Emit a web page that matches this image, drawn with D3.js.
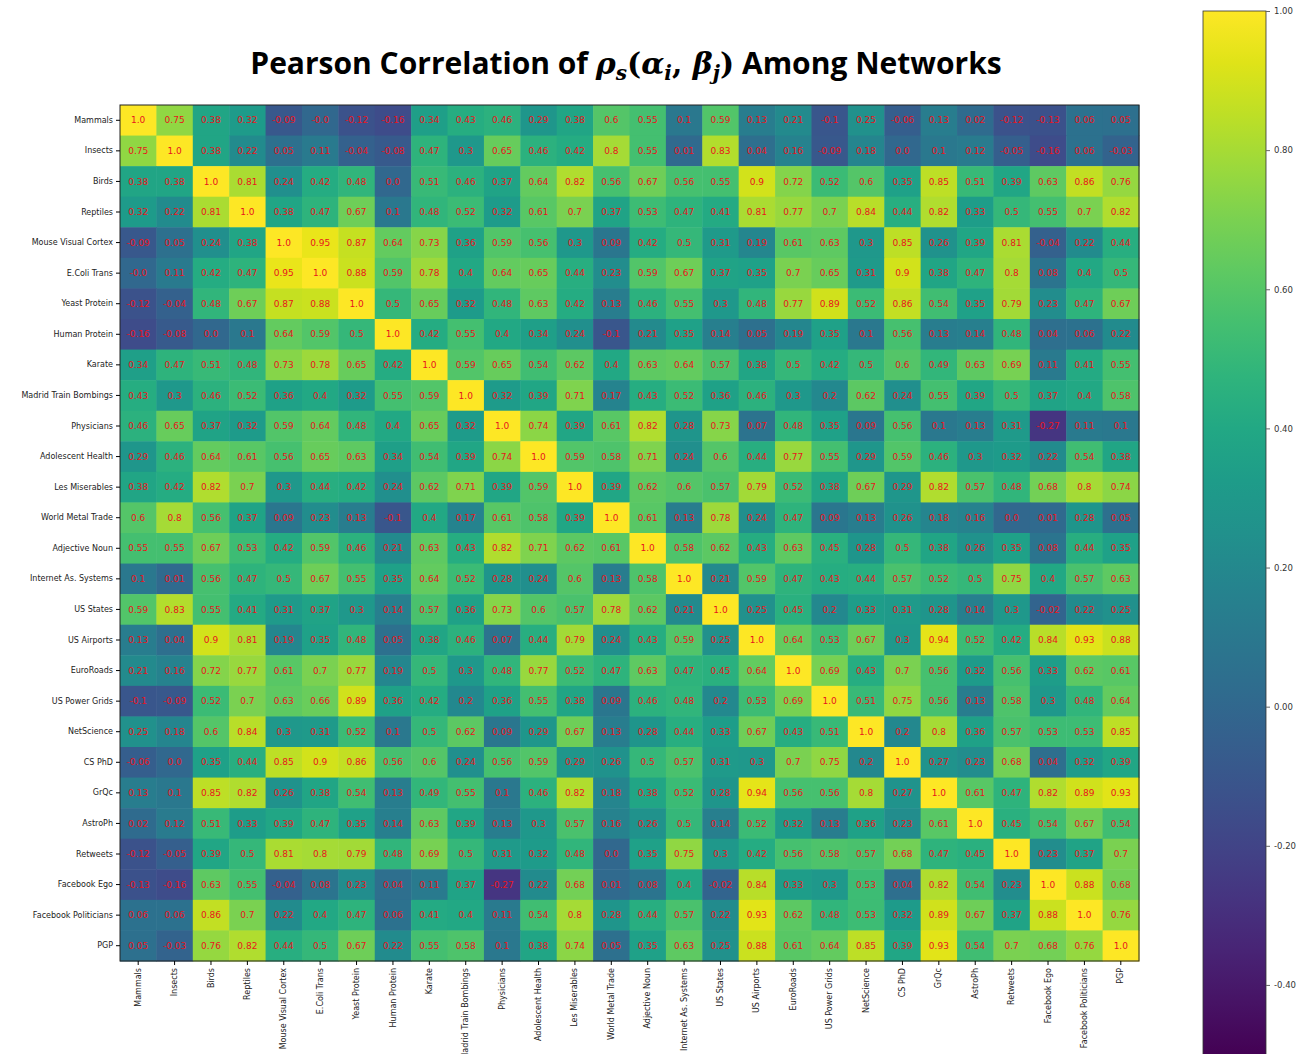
<!DOCTYPE html>
<html>
<head>
<meta charset="utf-8">
<script src="https://cdn.jsdelivr.net/npm/d3@7"></script>
<style>
body { margin: 0; background: #fff; }
</style>
</head>
<body>
<script>
// network names (rows and columns)
var networks = ["Mammals", "Insects", "Birds", "Reptiles", "Mouse Visual Cortex", "E.Coli Trans",
  "Yeast Protein", "Human Protein", "Karate", "Madrid Train Bombings", "Physicians",
  "Adolescent Health", "Les Miserables", "World Metal Trade", "Adjective Noun",
  "Internet As. Systems", "US States", "US Airports", "EuroRoads", "US Power Grids",
  "NetScience", "CS PhD", "GrQc", "AstroPh", "Retweets", "Facebook Ego",
  "Facebook Politicians", "PGP"];

// correlation values, one row per network
var rows = [
  [1.0,0.75,0.38,0.32,-0.09,-0.0,-0.12,-0.16,0.34,0.43,0.46,0.29,0.38,0.6,0.55,0.1,0.59,0.13,0.21,-0.1,0.25,-0.06,0.13,0.02,-0.12,-0.13,0.06,0.05],
  [0.75,1.0,0.38,0.22,0.05,0.11,-0.04,-0.08,0.47,0.3,0.65,0.46,0.42,0.8,0.55,0.01,0.83,0.04,0.16,-0.09,0.18,0.0,0.1,0.12,-0.05,-0.16,0.06,-0.03],
  [0.38,0.38,1.0,0.81,0.24,0.42,0.48,0.0,0.51,0.46,0.37,0.64,0.82,0.56,0.67,0.56,0.55,0.9,0.72,0.52,0.6,0.35,0.85,0.51,0.39,0.63,0.86,0.76],
  [0.32,0.22,0.81,1.0,0.38,0.47,0.67,0.1,0.48,0.52,0.32,0.61,0.7,0.37,0.53,0.47,0.41,0.81,0.77,0.7,0.84,0.44,0.82,0.33,0.5,0.55,0.7,0.82],
  [-0.09,0.05,0.24,0.38,1.0,0.95,0.87,0.64,0.73,0.36,0.59,0.56,0.3,0.09,0.42,0.5,0.31,0.19,0.61,0.63,0.3,0.85,0.26,0.39,0.81,-0.04,0.22,0.44],
  [-0.0,0.11,0.42,0.47,0.95,1.0,0.88,0.59,0.78,0.4,0.64,0.65,0.44,0.23,0.59,0.67,0.37,0.35,0.7,0.65,0.31,0.9,0.38,0.47,0.8,0.08,0.4,0.5],
  [-0.12,-0.04,0.48,0.67,0.87,0.88,1.0,0.5,0.65,0.32,0.48,0.63,0.42,0.13,0.46,0.55,0.3,0.48,0.77,0.89,0.52,0.86,0.54,0.35,0.79,0.23,0.47,0.67],
  [-0.16,-0.08,0.0,0.1,0.64,0.59,0.5,1.0,0.42,0.55,0.4,0.34,0.24,-0.1,0.21,0.35,0.14,0.05,0.19,0.35,0.1,0.56,0.13,0.14,0.48,0.04,0.06,0.22],
  [0.34,0.47,0.51,0.48,0.73,0.78,0.65,0.42,1.0,0.59,0.65,0.54,0.62,0.4,0.63,0.64,0.57,0.38,0.5,0.42,0.5,0.6,0.49,0.63,0.69,0.11,0.41,0.55],
  [0.43,0.3,0.46,0.52,0.36,0.4,0.32,0.55,0.59,1.0,0.32,0.39,0.71,0.17,0.43,0.52,0.36,0.46,0.3,0.2,0.62,0.24,0.55,0.39,0.5,0.37,0.4,0.58],
  [0.46,0.65,0.37,0.32,0.59,0.64,0.48,0.4,0.65,0.32,1.0,0.74,0.39,0.61,0.82,0.28,0.73,0.07,0.48,0.35,0.09,0.56,0.1,0.13,0.31,-0.27,0.11,0.1],
  [0.29,0.46,0.64,0.61,0.56,0.65,0.63,0.34,0.54,0.39,0.74,1.0,0.59,0.58,0.71,0.24,0.6,0.44,0.77,0.55,0.29,0.59,0.46,0.3,0.32,0.22,0.54,0.38],
  [0.38,0.42,0.82,0.7,0.3,0.44,0.42,0.24,0.62,0.71,0.39,0.59,1.0,0.39,0.62,0.6,0.57,0.79,0.52,0.38,0.67,0.29,0.82,0.57,0.48,0.68,0.8,0.74],
  [0.6,0.8,0.56,0.37,0.09,0.23,0.13,-0.1,0.4,0.17,0.61,0.58,0.39,1.0,0.61,0.13,0.78,0.24,0.47,0.09,0.13,0.26,0.18,0.16,0.0,0.01,0.28,0.05],
  [0.55,0.55,0.67,0.53,0.42,0.59,0.46,0.21,0.63,0.43,0.82,0.71,0.62,0.61,1.0,0.58,0.62,0.43,0.63,0.45,0.28,0.5,0.38,0.26,0.35,0.08,0.44,0.35],
  [0.1,0.01,0.56,0.47,0.5,0.67,0.55,0.35,0.64,0.52,0.28,0.24,0.6,0.13,0.58,1.0,0.21,0.59,0.47,0.43,0.44,0.57,0.52,0.5,0.75,0.4,0.57,0.63],
  [0.59,0.83,0.55,0.41,0.31,0.37,0.3,0.14,0.57,0.36,0.73,0.6,0.57,0.78,0.62,0.21,1.0,0.25,0.45,0.2,0.33,0.31,0.28,0.14,0.3,-0.02,0.22,0.25],
  [0.13,0.04,0.9,0.81,0.19,0.35,0.48,0.05,0.38,0.46,0.07,0.44,0.79,0.24,0.43,0.59,0.25,1.0,0.64,0.53,0.67,0.3,0.94,0.52,0.42,0.84,0.93,0.88],
  [0.21,0.16,0.72,0.77,0.61,0.7,0.77,0.19,0.5,0.3,0.48,0.77,0.52,0.47,0.63,0.47,0.45,0.64,1.0,0.69,0.43,0.7,0.56,0.32,0.56,0.33,0.62,0.61],
  [-0.1,-0.09,0.52,0.7,0.63,0.66,0.89,0.36,0.42,0.2,0.36,0.55,0.38,0.09,0.46,0.48,0.2,0.53,0.69,1.0,0.51,0.75,0.56,0.13,0.58,0.3,0.48,0.64],
  [0.25,0.18,0.6,0.84,0.3,0.31,0.52,0.1,0.5,0.62,0.09,0.29,0.67,0.13,0.28,0.44,0.33,0.67,0.43,0.51,1.0,0.2,0.8,0.36,0.57,0.53,0.53,0.85],
  [-0.06,0.0,0.35,0.44,0.85,0.9,0.86,0.56,0.6,0.24,0.56,0.59,0.29,0.26,0.5,0.57,0.31,0.3,0.7,0.75,0.2,1.0,0.27,0.23,0.68,0.04,0.32,0.39],
  [0.13,0.1,0.85,0.82,0.26,0.38,0.54,0.13,0.49,0.55,0.1,0.46,0.82,0.18,0.38,0.52,0.28,0.94,0.56,0.56,0.8,0.27,1.0,0.61,0.47,0.82,0.89,0.93],
  [0.02,0.12,0.51,0.33,0.39,0.47,0.35,0.14,0.63,0.39,0.13,0.3,0.57,0.16,0.26,0.5,0.14,0.52,0.32,0.13,0.36,0.23,0.61,1.0,0.45,0.54,0.67,0.54],
  [-0.12,-0.05,0.39,0.5,0.81,0.8,0.79,0.48,0.69,0.5,0.31,0.32,0.48,0.0,0.35,0.75,0.3,0.42,0.56,0.58,0.57,0.68,0.47,0.45,1.0,0.23,0.37,0.7],
  [-0.13,-0.16,0.63,0.55,-0.04,0.08,0.23,0.04,0.11,0.37,-0.27,0.22,0.68,0.01,0.08,0.4,-0.02,0.84,0.33,0.3,0.53,0.04,0.82,0.54,0.23,1.0,0.88,0.68],
  [0.06,0.06,0.86,0.7,0.22,0.4,0.47,0.06,0.41,0.4,0.11,0.54,0.8,0.28,0.44,0.57,0.22,0.93,0.62,0.48,0.53,0.32,0.89,0.67,0.37,0.88,1.0,0.76],
  [0.05,-0.03,0.76,0.82,0.44,0.5,0.67,0.22,0.55,0.58,0.1,0.38,0.74,0.05,0.35,0.63,0.25,0.88,0.61,0.64,0.85,0.39,0.93,0.54,0.7,0.68,0.76,1.0]
];

var colorTicks = [1.0, 0.8, 0.6, 0.4, 0.2, 0.0, -0.2, -0.4];

var W = 1310, H = 1054;
var plotL = 120, plotR = 1139, plotT = 105, plotB = 961;
var tickFont = "'DejaVu Sans', sans-serif";

var svg = d3.select("body").append("svg")
  .attr("width", W)
  .attr("height", H)
  .style("font-family", tickFont);

var x = d3.scaleBand().domain(networks).range([plotL, plotR]);
var y = d3.scaleBand().domain(networks).range([plotT, plotB]);
var color = d3.scaleSequential(d3.interpolateViridis).domain([-0.5, 1.0]);

// flatten into cells
var cells = [];
rows.forEach(function(r, i) {
  r.forEach(function(v, j) {
    cells.push({row: networks[i], col: networks[j], v: v});
  });
});

function fmt(v) {
  var s = Number.isInteger(v) ? v.toFixed(1) : String(v);
  if (Object.is(v, -0)) s = "-0.0";
  return s;
}

svg.append("g")
  .selectAll("rect")
  .data(cells)
  .enter()
  .append("rect")
  .attr("x", function(d) { return x(d.col); })
  .attr("y", function(d) { return y(d.row); })
  .attr("width", x.bandwidth() + 0.5)
  .attr("height", y.bandwidth() + 0.5)
  .attr("fill", function(d) { return color(d.v); });

svg.append("g")
  .selectAll("text")
  .data(cells)
  .enter()
  .append("text")
  .attr("x", function(d) { return x(d.col) + x.bandwidth() / 2; })
  .attr("y", function(d) { return y(d.row) + y.bandwidth() / 2; })
  .attr("dy", "0.35em")
  .attr("text-anchor", "middle")
  .attr("font-size", "9px")
  .attr("fill", "#e8141c")
  .text(function(d) { return fmt(d.v); });

// border
svg.append("rect")
  .attr("x", plotL).attr("y", plotT)
  .attr("width", plotR - plotL).attr("height", plotB - plotT)
  .attr("fill", "none")
  .attr("stroke", "#222")
  .attr("stroke-width", 1);

// axes
var yAxis = svg.append("g")
  .attr("transform", "translate(" + plotL + ",0)")
  .call(d3.axisLeft(y).tickSize(4).tickPadding(3));
yAxis.attr("font-family", tickFont);
yAxis.select(".domain").remove();
yAxis.selectAll("text").attr("font-size", "8px").attr("fill", "#222");

var xAxis = svg.append("g")
  .attr("transform", "translate(0," + plotB + ")")
  .call(d3.axisBottom(x).tickSize(4));
xAxis.attr("font-family", tickFont);
xAxis.select(".domain").remove();
xAxis.selectAll("text")
  .attr("font-size", "8px")
  .attr("fill", "#222")
  .attr("transform", "rotate(-90)")
  .attr("x", -7)
  .attr("y", 0)
  .attr("dy", "0.32em")
  .style("text-anchor", "end");

// colour bar
var cbX = 1203, cbW = 63;
var cbScale = d3.scaleLinear().domain([-0.5, 1.0]).range([1054.5, 11]);

var grad = svg.append("defs").append("linearGradient")
  .attr("id", "cbgrad")
  .attr("x1", "0").attr("y1", "1").attr("x2", "0").attr("y2", "0");
d3.range(0, 1.0001, 0.05).forEach(function(t) {
  grad.append("stop")
    .attr("offset", t)
    .attr("stop-color", d3.interpolateViridis(t));
});

svg.append("rect")
  .attr("x", cbX).attr("y", cbScale(1.0))
  .attr("width", cbW)
  .attr("height", cbScale(-0.5) - cbScale(1.0))
  .attr("fill", "url(#cbgrad)")
  .attr("stroke", "#333")
  .attr("stroke-width", 0.8);

var cbAxis = svg.append("g")
  .attr("transform", "translate(" + (cbX + cbW) + ",0)")
  .call(d3.axisRight(cbScale).tickValues(colorTicks).tickSize(4).tickPadding(4)
    .tickFormat(function(d) { return d.toFixed(2); }));
cbAxis.attr("font-family", tickFont);
cbAxis.select(".domain").remove();
cbAxis.selectAll("text").attr("font-size", "8.5px").attr("fill", "#333");
cbAxis.selectAll("line").attr("stroke", "#666");

// title
var title = svg.append("text")
  .attr("x", 626)
  .attr("y", 74)
  .attr("text-anchor", "middle")
  .attr("font-size", "30px")
  .attr("font-weight", "bold")
  .attr("font-family", "'Open Sans', sans-serif")
  .attr("fill", "#000");
title.append("tspan").text("Pearson Correlation of ");
var m = "'DejaVu Serif', serif";
title.append("tspan").attr("font-family", m).attr("font-style", "italic").text("ρ");
title.append("tspan").attr("font-family", m).attr("font-style", "italic").attr("font-size", "20px").attr("dy", 6).text("s");
title.append("tspan").attr("font-family", m).attr("dy", -6).text("(");
title.append("tspan").attr("font-family", m).attr("font-style", "italic").text("α");
title.append("tspan").attr("font-family", m).attr("font-style", "italic").attr("font-size", "20px").attr("dy", 6).text("i");
title.append("tspan").attr("font-family", m).attr("dy", -6).text(", ");
title.append("tspan").attr("font-family", m).attr("font-style", "italic").text("β");
title.append("tspan").attr("font-family", m).attr("font-style", "italic").attr("font-size", "20px").attr("dy", 6).text("j");
title.append("tspan").attr("font-family", m).attr("dy", -6).text(")");
title.append("tspan").text(" Among Networks");
</script>
</body>
</html>
